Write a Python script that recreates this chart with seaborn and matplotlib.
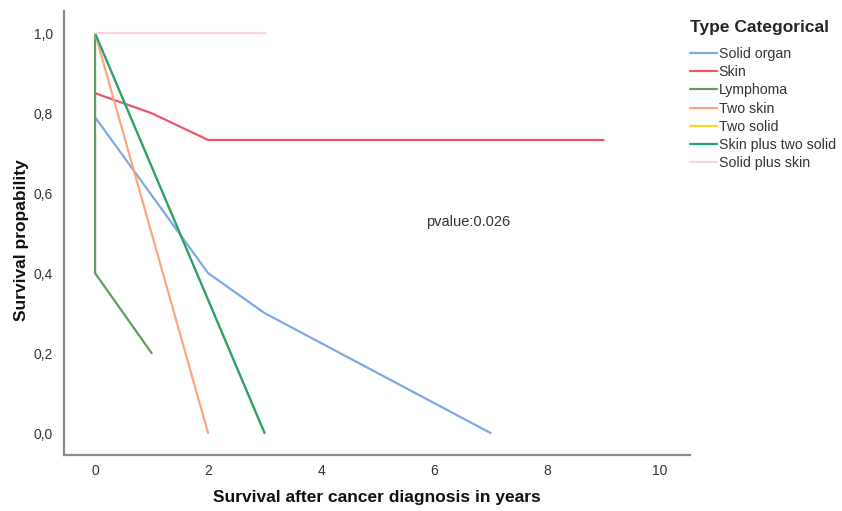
import matplotlib
matplotlib.use("Agg")
import matplotlib.pyplot as plt
import seaborn as sns
import pandas as pd
from matplotlib.ticker import FuncFormatter, FixedLocator

# Data
categories = ["Solid organ", "Skin", "Lymphoma", "Two skin", "Two solid",
              "Skin plus two solid", "Solid plus skin"]
solid_organ_x = [0, 2, 3, 7]
solid_organ_y = [0.79, 0.40, 0.30, 0.0]
skin_x = [0, 1, 2, 9]
skin_y = [0.85, 0.80, 0.733, 0.733]
lymphoma_x = [0, 0, 1]
lymphoma_y = [1.0, 0.40, 0.20]
two_skin_x = [0, 2]
two_skin_y = [1.0, 0.0]
two_solid_x = [0, 3]
two_solid_y = [1.0, 0.0]
skin_two_solid_x = [0, 3]
skin_two_solid_y = [1.0, 0.0]
solid_skin_x = [0, 3]
solid_skin_y = [1.0, 1.0]
x_ticks = [0, 2, 4, 6, 8, 10]
y_ticks = [0.0, 0.2, 0.4, 0.6, 0.8, 1.0]
pvalue_text = "pvalue:0.026"

series = [
    (categories[0], solid_organ_x, solid_organ_y),
    (categories[1], skin_x, skin_y),
    (categories[2], lymphoma_x, lymphoma_y),
    (categories[3], two_skin_x, two_skin_y),
    (categories[4], two_solid_x, two_solid_y),
    (categories[5], skin_two_solid_x, skin_two_solid_y),
    (categories[6], solid_skin_x, solid_skin_y),
]
rows = []
for name, xs, ys in series:
    for i, (x, y) in enumerate(zip(xs, ys)):
        rows.append({"Type Categorical": name, "x": x, "y": y, "order": i})
df = pd.DataFrame(rows)

palette = {
    "Solid organ": "#7DA8EA",
    "Skin": "#E9566D",
    "Lymphoma": "#5F9E5F",
    "Two skin": "#FFA57C",
    "Two solid": "#FFD423",
    "Skin plus two solid": "#22A37E",
    "Solid plus skin": "#FFD3E2",
}

sns.set_style("white")
plt.rcParams['font.family'] = ['Liberation Sans', 'DejaVu Sans']

fig = plt.figure(figsize=(8.42, 5.11), dpi=100)
ax = fig.add_axes([0.076, 0.1096, 0.7435, 0.8684])

sns.lineplot(data=df, x="x", y="y", hue="Type Categorical", hue_order=categories,
             palette=palette, sort=False, estimator=None, units="Type Categorical",
             linewidth=1.6, ax=ax)

ax.set_xlim(-0.55, 10.53)
ax.set_ylim(-0.055, 1.055)
ax.xaxis.set_major_locator(FixedLocator(x_ticks))
ax.yaxis.set_major_locator(FixedLocator(y_ticks))
ax.yaxis.set_major_formatter(FuncFormatter(lambda v, p: f"{v:.1f}".replace(".", ",")))
ax.xaxis.set_major_formatter(FuncFormatter(lambda v, p: f"{int(round(v))}"))
ax.tick_params(axis="both", length=0, labelsize=10, labelcolor="#333333")
ax.tick_params(axis="x", pad=6.5)
ax.tick_params(axis="y", pad=8)

for s in ["top", "right"]:
    ax.spines[s].set_visible(False)
for s in ["left", "bottom"]:
    ax.spines[s].set_color("#8c8c8c")
    ax.spines[s].set_linewidth(1.6)

ax.set_xlabel("Survival after cancer diagnosis in years", fontsize=12.5,
              fontweight="bold", color="#111111")
ax.set_ylabel("Survival propability", fontsize=12.5, fontweight="bold",
              color="#111111")
ax.xaxis.set_label_coords(0.5, -0.095)
ax.yaxis.set_label_coords(-0.068, 0.484)
ax.xaxis.label.set_va("center")
ax.yaxis.label.set_va("center")

ax.text(6.6, 0.527, pvalue_text, fontsize=10.5, color="#333333",
        ha="center", va="center")

leg = ax.legend(title="Type Categorical", loc="upper left",
                bbox_to_anchor=(690 / 842, 1 - 20 / 511),
                bbox_transform=fig.transFigure, frameon=False, fontsize=10.2,
                title_fontproperties={"weight": "bold", "size": 12.5},
                handlelength=1.9, handletextpad=0.12, labelspacing=0.3,
                borderaxespad=0, borderpad=0)
leg._legend_box.align = "left"
leg._legend_box.sep = 8.5
for t in leg.get_texts():
    t.set_color("#333333")

fig.savefig("out.png", dpi=100)
